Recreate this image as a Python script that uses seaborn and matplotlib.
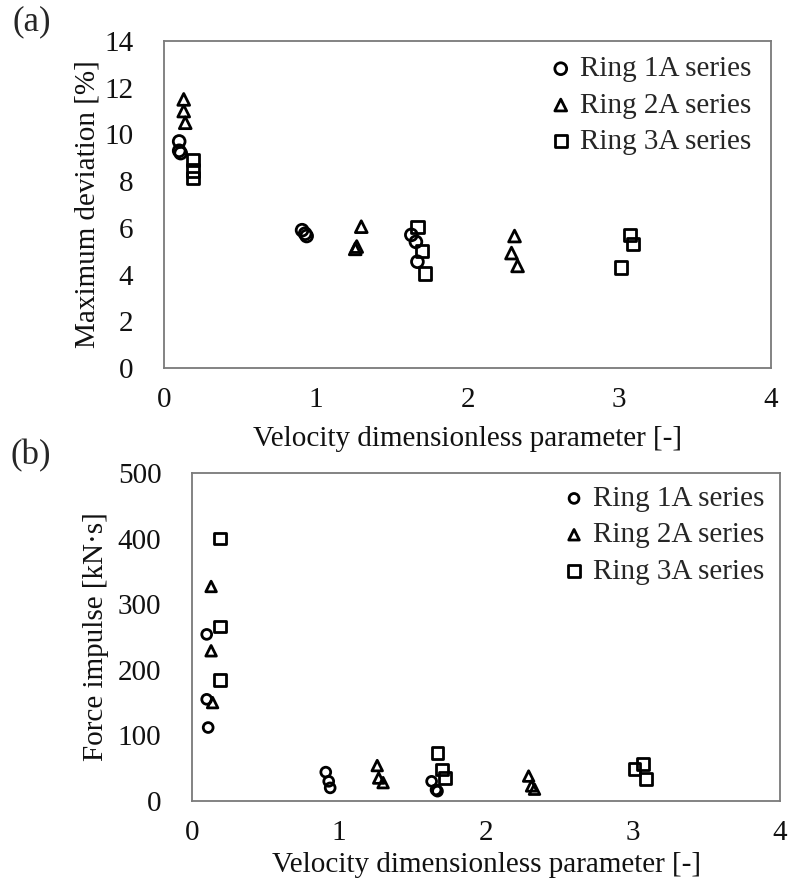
import matplotlib
matplotlib.use("Agg")
import matplotlib.pyplot as plt
import numpy as np
import pandas as pd
import seaborn as sns

# Velocity dimensionless parameter for each test, per ring series
x_ring1 = [0.10, 0.10, 0.11, 0.91, 0.93, 0.94, 1.63, 1.66, 1.67]
x_ring2 = [0.13, 0.13, 0.14, 1.27, 1.26, 1.30, 2.29, 2.31, 2.33]
x_ring3 = [0.19, 0.19, 0.19, 1.67, 1.70, 1.72, 3.01, 3.07, 3.09]

# Maximum deviation [%]
dev_ring1 = [9.7, 9.3, 9.2, 5.9, 5.75, 5.65, 5.7, 5.4, 4.55]
dev_ring2 = [11.5, 11.0, 10.5, 5.2, 5.1, 6.05, 4.92, 5.65, 4.37]
dev_ring3 = [8.9, 8.45, 8.15, 6.05, 5.0, 4.05, 4.3, 5.7, 5.3]

# Force impulse [kN·s]
imp_ring1 = [254, 155, 112, 44, 30, 20, 30, 17, 15]
imp_ring2 = [229, 327, 150, 35, 54, 28, 38, 23, 18]
imp_ring3 = [400, 266, 184, 73, 48, 35, 49, 57, 34]

series_names = ["Ring 1A series", "Ring 2A series", "Ring 3A series"]
series_markers = ["o", "^", "s"]

x_ticks = [0, 1, 2, 3, 4]
dev_ticks = [0, 2, 4, 6, 8, 10, 12, 14]
imp_ticks = [0, 100, 200, 300, 400, 500]

sns.set_theme(style="white")
plt.rcParams["font.family"] = ["Liberation Serif", "DejaVu Serif"]

FS = 21

fig = plt.figure(figsize=(7.9, 8.91), dpi=100)
ax1 = fig.add_axes([164 / 790, 1 - 368 / 891, 607 / 790, 327 / 891])
ax2 = fig.add_axes([192 / 790, 1 - 801 / 891, 588 / 790, 328 / 891])

xs = [x_ring1, x_ring2, x_ring3]
devs = [dev_ring1, dev_ring2, dev_ring3]
imps = [imp_ring1, imp_ring2, imp_ring3]

sizes_a = [72, 72, 78]
sizes_b = [50, 58, 72]

for name, mk, xv, yv, s in zip(series_names, series_markers, xs, devs, sizes_a):
    df = pd.DataFrame({"x": xv, "y": yv})
    sns.scatterplot(data=df, x="x", y="y", ax=ax1, marker=mk, s=s,
                    facecolor="none", edgecolor="black", linewidth=2.0,
                    label=name, zorder=3)

for name, mk, xv, yv, s in zip(series_names, series_markers, xs, imps, sizes_b):
    df = pd.DataFrame({"x": xv, "y": yv})
    sns.scatterplot(data=df, x="x", y="y", ax=ax2, marker=mk, s=s,
                    facecolor="none", edgecolor="black", linewidth=2.0,
                    label=name, zorder=3)

for ax, yticks, ylabel, ypad, xpad in [
    (ax1, dev_ticks, "Maximum deviation [%]", 3, 9),
    (ax2, imp_ticks, "Force impulse [kN\u00b7s]", 6, 4),
]:
    ax.set_xlim(0, 4)
    ax.set_ylim(yticks[0], yticks[-1])
    ax.set_xticks(x_ticks)
    ax.set_yticks(yticks)
    ax.set_xticklabels([str(t) for t in x_ticks])
    ax.set_yticklabels([str(t) for t in yticks])
    ax.tick_params(axis="both", length=0, labelsize=FS, colors="#111111")
    ax.tick_params(axis="x", pad=14)
    ax.tick_params(axis="y", pad=22)
    ax.set_xlabel("Velocity dimensionless parameter [-]", fontsize=FS,
                  color="#111111", labelpad=xpad)
    ax.set_ylabel(ylabel, fontsize=FS, color="#111111", labelpad=ypad)
    for sp in ax.spines.values():
        sp.set_visible(True)
        sp.set_color("#7a7a7a")
        sp.set_linewidth(1.3)
    ax.grid(False)

ax1.legend(loc="upper left", bbox_to_anchor=(0.62, 0.99), frameon=False,
           fontsize=FS, handlelength=0.6, handletextpad=0.35,
           labelspacing=0.34, borderaxespad=0)
ax2.legend(loc="upper left", bbox_to_anchor=(0.615, 0.997), frameon=False,
           fontsize=FS, handlelength=0.6, handletextpad=0.35,
           labelspacing=0.34, borderaxespad=0)

fig.text(12 / 790, 1 - 22 / 891, "(a)", fontsize=25, va="center", ha="left")
fig.text(11 / 790, 1 - 456 / 891, "(b)", fontsize=25, va="center", ha="left")

fig.savefig("out.png", dpi=100)
